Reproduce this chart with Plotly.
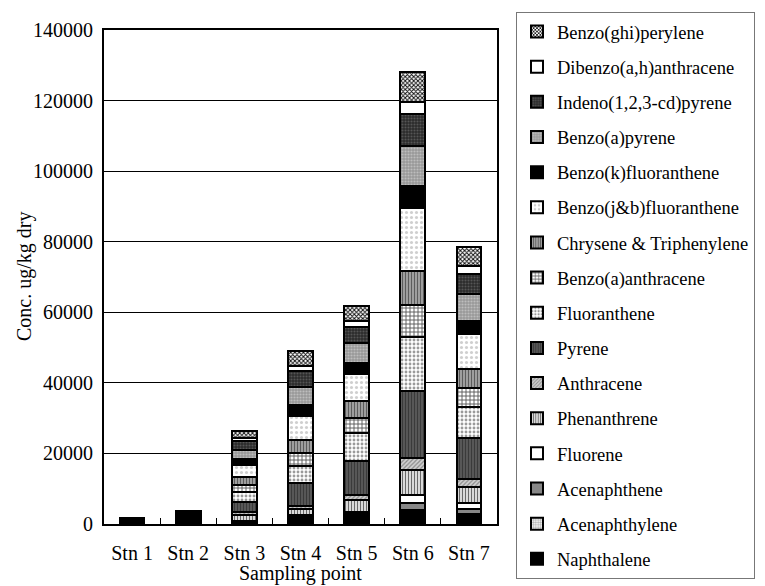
import plotly.graph_objects as go

stations = ["Stn 1", "Stn 2", "Stn 3", "Stn 4", "Stn 5", "Stn 6", "Stn 7"]

# values (ug/kg dry), stacked bottom -> top
naphthalene          = [1100, 2600, 600, 1600, 2400, 3700, 2500]
acenaphthylene       = [50, 100, 100, 300, 300, 400, 300]
acenaphthene         = [50, 100, 150, 300, 400, 1800, 1400]
fluorene             = [50, 100, 100, 300, 300, 2400, 1700]
phenanthrene         = [150, 250, 1700, 1800, 3300, 6900, 4450]
anthracene           = [30, 50, 660, 900, 1600, 3500, 2360]
pyrene               = [100, 200, 3000, 6500, 9500, 19100, 11700]
fluoranthene         = [100, 150, 2650, 4600, 7900, 15200, 8700]
benzo_a_anthracene   = [0, 0, 2080, 3800, 4250, 9000, 5400]
chrysene_triphenyl   = [0, 0, 2170, 3800, 4900, 9800, 5500]
benzo_jb_fluoranth   = [0, 0, 3400, 6700, 7700, 17700, 9800]
benzo_k_fluoranth    = [0, 0, 1700, 3100, 3100, 6200, 3700]
benzo_a_pyrene       = [0, 0, 2650, 5200, 5600, 11500, 7600]
indeno_pyrene        = [0, 0, 2450, 4400, 4650, 9000, 5700]
dibenzo_anthracene   = [0, 0, 950, 1500, 1700, 3300, 2400]
benzo_ghi_perylene   = [0, 0, 2100, 4200, 4100, 8500, 5300]

series = [
    ("Naphthalene", naphthalene, dict(shape="", bgcolor="#000000", fgcolor="#000000")),
    ("Acenaphthylene", acenaphthylene, dict(shape=".", bgcolor="#ffffff", fgcolor="#b0b0b0", size=3, solidity=0.5)),
    ("Acenaphthene", acenaphthene, dict(shape="", bgcolor="#878787", fgcolor="#878787")),
    ("Fluorene", fluorene, dict(shape="", bgcolor="#ffffff", fgcolor="#ffffff")),
    ("Phenanthrene", phenanthrene, dict(shape="|", bgcolor="#ffffff", fgcolor="#6a6a6a", size=3, solidity=0.5)),
    ("Anthracene", anthracene, dict(shape="/", bgcolor="#d0d0d0", fgcolor="#8a8a8a", size=3, solidity=0.4)),
    ("Pyrene", pyrene, dict(shape="|", bgcolor="#5a5a5a", fgcolor="#3a3a3a", size=3, solidity=0.4)),
    ("Fluoranthene", fluoranthene, dict(shape=".", bgcolor="#ffffff", fgcolor="#9a9a9a", size=4, solidity=0.4)),
    ("Benzo(a)anthracene", benzo_a_anthracene, dict(shape="+", bgcolor="#ffffff", fgcolor="#555555", size=4, solidity=0.4)),
    ("Chrysene & Triphenylene", chrysene_triphenyl, dict(shape="|", bgcolor="#a5a5a5", fgcolor="#5c5c5c", size=3, solidity=0.4)),
    ("Benzo(j&b)fluoranthene", benzo_jb_fluoranth, dict(shape=".", bgcolor="#ffffff", fgcolor="#cfcfcf", size=5, solidity=0.3)),
    ("Benzo(k)fluoranthene", benzo_k_fluoranth, dict(shape="", bgcolor="#000000", fgcolor="#000000")),
    ("Benzo(a)pyrene", benzo_a_pyrene, dict(shape=".", bgcolor="#999999", fgcolor="#bdbdbd", size=3, solidity=0.4)),
    ("Indeno(1,2,3-cd)pyrene", indeno_pyrene, dict(shape=".", bgcolor="#2a2a2a", fgcolor="#555555", size=3, solidity=0.4)),
    ("Dibenzo(a,h)anthracene", dibenzo_anthracene, dict(shape="", bgcolor="#ffffff", fgcolor="#ffffff")),
    ("Benzo(ghi)perylene", benzo_ghi_perylene, dict(shape="x", bgcolor="#ffffff", fgcolor="#111111", size=3, solidity=0.55)),
]

n = len(series)
fig = go.Figure()
for i, (name, vals, pat) in enumerate(series):
    fig.add_trace(go.Bar(
        x=stations, y=vals, name=name, legendgroup=name, legendrank=n - i,
        marker=dict(color=pat.get("bgcolor"), pattern=dict(fillmode="replace", **pat),
                    line=dict(color="#000000", width=2)),
    ))

FONT = "Liberation Serif, Times New Roman, serif"
fig.update_layout(
    width=765, height=586,
    barmode="stack", bargap=0.56,
    paper_bgcolor="white", plot_bgcolor="white",
    font=dict(family=FONT, size=20, color="#000000"),
    margin=dict(l=104, r=268, t=30, b=62, autoexpand=False),
    legend=dict(
        traceorder="grouped", tracegroupgap=8.1,
        x=(516 - 104) / 393, xanchor="left", y=(524 - 12) / 494, yanchor="top",
        bordercolor="#777777", borderwidth=1,
        font=dict(family=FONT, size=18.5), maxheight=600,
    ),
    showlegend=True,
    annotations=[
        dict(text="Conc. ug/kg dry", xref="paper", yref="paper",
             x=(24 - 104) / 393, y=0.5,
             textangle=-90, showarrow=False, xanchor="center", yanchor="middle",
             font=dict(family=FONT, size=20)),
        dict(text="Sampling point", xref="paper", yref="paper",
             x=0.5, y=(524 - 573) / 494,
             showarrow=False, xanchor="center", yanchor="middle",
             font=dict(family=FONT, size=20)),
    ],
)
fig.update_yaxes(
    range=[0, 140000], dtick=20000, tickformat="d", automargin=False,
    showgrid=True, gridcolor="#000000", gridwidth=1,
    showline=True, linecolor="#000000", linewidth=2, mirror=True,
    ticks="inside", ticklen=5, tickcolor="#000000", ticklabelstandoff=5,
    tickfont=dict(size=20), zeroline=False,
)
fig.update_xaxes(
    showline=True, linecolor="#000000", linewidth=2, mirror=True, automargin=False,
    ticks="inside", tickson="boundaries", ticklen=6, tickcolor="#000000",
    tickfont=dict(size=20), ticklabelstandoff=10,
)

fig.write_html("out.html", config={"displayModeBar": False},
               post_script="document.body.style.margin='0px';document.body.style.overflow='hidden';")
